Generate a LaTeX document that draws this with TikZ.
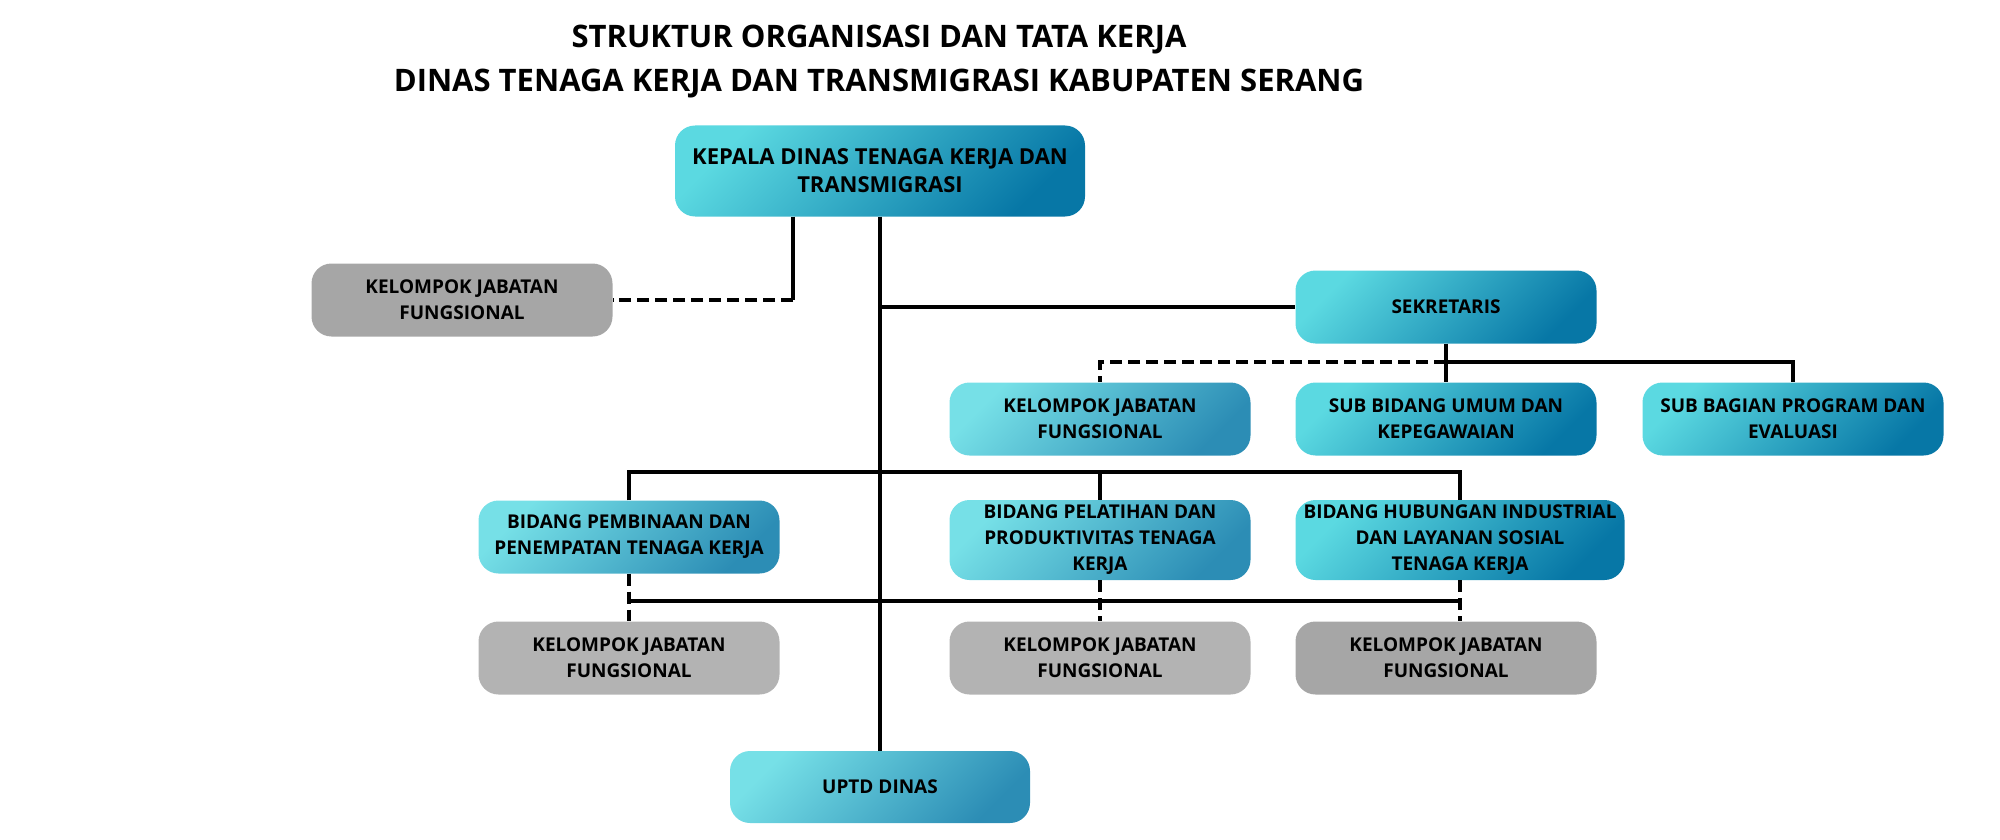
\documentclass[tikz,border=0pt]{standalone}
\usepackage{fontspec}
\setmainfont{Open Sans}
\definecolor{tealLight}{HTML}{5BD9E1}
\definecolor{tealDark}{HTML}{0777A6}
\definecolor{paleLight}{HTML}{76E0E7}
\definecolor{paleDark}{HTML}{2C8DB5}
\definecolor{greyDark}{HTML}{A6A6A6}
\definecolor{greyPale}{HTML}{B3B3B3}
\begin{document}
\begin{tikzpicture}[x=1pt,y=-1pt,
		box/.style={rectangle,rounded corners=20pt,minimum width=301pt,minimum height=73pt,
			align=center,inner sep=4pt,font=\fontsize{19}{26}\selectfont\bfseries},
		bluebox/.style={box,top color=tealLight,bottom color=tealDark,shading angle=45},
		palebox/.style={box,top color=paleLight,bottom color=paleDark,shading angle=45},
		greybox/.style={box,fill=#1},
		link/.style={line width=4pt},
		dlink/.style={line width=4pt,dash pattern=on 12pt off 6pt}]
		\useasboundingbox (0,0) rectangle (2000,840);
		% judul
		\node[align=center,font=\fontsize{31}{44}\selectfont\bfseries] (judul) at (879,62)
			{STRUKTUR ORGANISASI DAN TATA KERJA\\DINAS TENAGA KERJA DAN TRANSMIGRASI KABUPATEN SERANG};
		% kotak
		\node[bluebox,minimum width=410pt,minimum height=91pt,font=\fontsize{22}{28}\selectfont\bfseries] (kepala) at (880,171) {KEPALA DINAS TENAGA KERJA DAN\\TRANSMIGRASI};
		\node[greybox=greyDark] (kjfkepala) at (462,300) {KELOMPOK JABATAN\\FUNGSIONAL};
		\node[bluebox] (sekretaris) at (1446,307) {SEKRETARIS};
		\node[palebox] (kjfsekretaris) at (1100,419) {KELOMPOK JABATAN\\FUNGSIONAL};
		\node[bluebox] (umum) at (1446,419) {SUB BIDANG UMUM DAN\\KEPEGAWAIAN};
		\node[bluebox] (program) at (1793,419) {SUB BAGIAN PROGRAM DAN\\EVALUASI};
		\node[palebox] (pembinaan) at (629,537) {BIDANG PEMBINAAN DAN\\PENEMPATAN TENAGA KERJA};
		\node[palebox,minimum height=80pt] (pelatihan) at (1100,540) {BIDANG PELATIHAN DAN\\PRODUKTIVITAS TENAGA\\KERJA};
		\node[bluebox,minimum width=329pt,minimum height=80pt] (hubungan) at (1460,540) {BIDANG HUBUNGAN INDUSTRIAL\\DAN LAYANAN SOSIAL\\TENAGA KERJA};
		\node[greybox=greyPale] (kjfpembinaan) at (629,658) {KELOMPOK JABATAN\\FUNGSIONAL};
		\node[greybox=greyPale] (kjfpelatihan) at (1100,658) {KELOMPOK JABATAN\\FUNGSIONAL};
		\node[greybox=greyDark] (kjfhubungan) at (1446,658) {KELOMPOK JABATAN\\FUNGSIONAL};
		\node[palebox,minimum width=300pt,minimum height=72pt] (uptd) at (880,787) {UPTD DINAS};
		% titik simpul
		\coordinate (kjfjoin) at (793,300);
		\coordinate (sekjoin) at (1446,362);
		\coordinate (bidangbus) at (880,472);
		\coordinate (bawahbus) at (880,601);
		% garis
		\draw[link] (kepala.south) -- (uptd.north);
		\draw[link] (kepala.south -| kjfjoin) -- (kjfjoin);
		\draw[dlink] (kjfjoin) -- (kjfkepala.east);
		\draw[link] (kepala.south |- sekretaris.west) -- (sekretaris.west);
		\draw[link] (sekretaris.south) -- (umum.north);
		\draw[link] (sekjoin) -| (program.north);
		\draw[dlink] (sekjoin) -| (kjfsekretaris.north);
		\draw[link] (pembinaan.north) |- (bidangbus) -| (hubungan.north);
		\draw[link] (bidangbus -| pelatihan.north) -- (pelatihan.north);
		\draw[link] (bawahbus -| pembinaan.south) -- (bawahbus -| hubungan.south);
		\draw[dlink] (pembinaan.south) -- (kjfpembinaan.north);
		\draw[dlink] (pelatihan.south) -- (kjfpelatihan.north);
		\draw[dlink] (hubungan.south) -- (hubungan.south |- kjfhubungan.north);
	\end{tikzpicture}
\end{document}
